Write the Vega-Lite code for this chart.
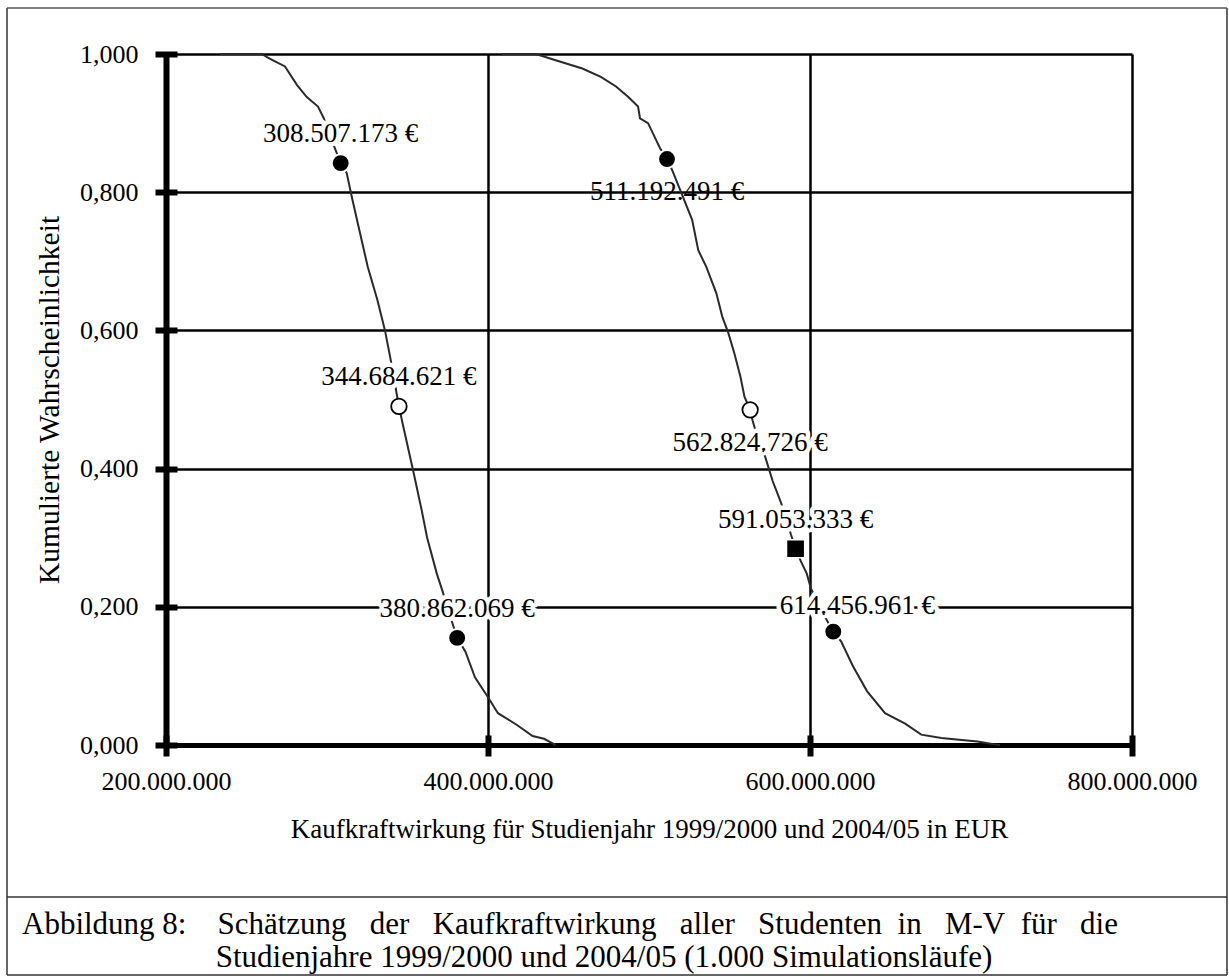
{
  "$schema": "https://vega.github.io/schema/vega-lite/v6.json",
  "width": 966,
  "height": 691,
  "autosize": {"type": "none"},
  "padding": {"left": 166, "top": 54, "right": 97, "bottom": 233},
  "background": "white",
  "config": {
    "locale": {"number": {"decimal": ",", "thousands": ".", "grouping": [3], "currency": ["", " €"]}},
    "font": "Liberation Serif",
    "view": {"stroke": null}
  },
  "title": {
    "text": [
      "Abbildung 8:\u00a0\u00a0\u00a0 Schätzung\u00a0\u00a0 der\u00a0\u00a0 Kaufkraftwirkung\u00a0\u00a0 aller\u00a0\u00a0 Studenten\u00a0 in\u00a0\u00a0 M-V\u00a0 für\u00a0\u00a0 die",
      "\u200b\u00a0\u00a0\u00a0\u00a0\u00a0\u00a0\u00a0\u00a0\u00a0\u00a0\u00a0\u00a0\u00a0\u00a0\u00a0\u00a0\u00a0\u00a0\u00a0\u00a0\u00a0\u00a0\u00a0\u00a0\u00a0Studienjahre 1999/2000 und 2004/05 (1.000 Simulationsläufe)"
    ],
    "orient": "bottom",
    "anchor": "start",
    "frame": "group",
    "font": "Liberation Serif",
    "fontSize": 31,
    "fontWeight": "normal",
    "color": "black",
    "lineHeight": 33,
    "offset": -66,
    "dx": -144
  },
  "datasets": {
    "kurven": [
      {"jahr": "1999/2000", "wert": 233500000, "p": 1.000},
      {"jahr": "1999/2000", "wert": 259600000, "p": 1.000},
      {"jahr": "1999/2000", "wert": 263000000, "p": 0.995},
      {"jahr": "1999/2000", "wert": 267100000, "p": 0.990},
      {"jahr": "1999/2000", "wert": 273900000, "p": 0.982},
      {"jahr": "1999/2000", "wert": 281400000, "p": 0.955},
      {"jahr": "1999/2000", "wert": 287300000, "p": 0.938},
      {"jahr": "1999/2000", "wert": 294400000, "p": 0.924},
      {"jahr": "1999/2000", "wert": 298000000, "p": 0.907},
      {"jahr": "1999/2000", "wert": 302500000, "p": 0.878},
      {"jahr": "1999/2000", "wert": 308507173, "p": 0.842},
      {"jahr": "1999/2000", "wert": 312200000, "p": 0.828},
      {"jahr": "1999/2000", "wert": 315800000, "p": 0.789},
      {"jahr": "1999/2000", "wert": 320500000, "p": 0.741},
      {"jahr": "1999/2000", "wert": 325300000, "p": 0.692},
      {"jahr": "1999/2000", "wert": 331300000, "p": 0.644},
      {"jahr": "1999/2000", "wert": 336000000, "p": 0.600},
      {"jahr": "1999/2000", "wert": 339600000, "p": 0.557},
      {"jahr": "1999/2000", "wert": 342000000, "p": 0.525},
      {"jahr": "1999/2000", "wert": 344684621, "p": 0.490},
      {"jahr": "1999/2000", "wert": 347000000, "p": 0.465},
      {"jahr": "1999/2000", "wert": 353900000, "p": 0.393},
      {"jahr": "1999/2000", "wert": 358700000, "p": 0.341},
      {"jahr": "1999/2000", "wert": 362200000, "p": 0.300},
      {"jahr": "1999/2000", "wert": 368200000, "p": 0.248},
      {"jahr": "1999/2000", "wert": 371700000, "p": 0.223},
      {"jahr": "1999/2000", "wert": 376000000, "p": 0.190},
      {"jahr": "1999/2000", "wert": 380862069, "p": 0.155},
      {"jahr": "1999/2000", "wert": 386000000, "p": 0.135},
      {"jahr": "1999/2000", "wert": 391900000, "p": 0.098},
      {"jahr": "1999/2000", "wert": 400300000, "p": 0.068},
      {"jahr": "1999/2000", "wert": 406200000, "p": 0.046},
      {"jahr": "1999/2000", "wert": 418000000, "p": 0.029},
      {"jahr": "1999/2000", "wert": 427700000, "p": 0.013},
      {"jahr": "1999/2000", "wert": 434800000, "p": 0.009},
      {"jahr": "1999/2000", "wert": 439600000, "p": 0.003},
      {"jahr": "1999/2000", "wert": 442000000, "p": 0.000},
      {"jahr": "2004/05", "wert": 408700000, "p": 1.000},
      {"jahr": "2004/05", "wert": 429800000, "p": 1.000},
      {"jahr": "2004/05", "wert": 442000000, "p": 0.991},
      {"jahr": "2004/05", "wert": 458600000, "p": 0.979},
      {"jahr": "2004/05", "wert": 470100000, "p": 0.967},
      {"jahr": "2004/05", "wert": 479500000, "p": 0.953},
      {"jahr": "2004/05", "wert": 487000000, "p": 0.938},
      {"jahr": "2004/05", "wert": 493200000, "p": 0.924},
      {"jahr": "2004/05", "wert": 494400000, "p": 0.907},
      {"jahr": "2004/05", "wert": 499400000, "p": 0.900},
      {"jahr": "2004/05", "wert": 504300000, "p": 0.876},
      {"jahr": "2004/05", "wert": 506800000, "p": 0.864},
      {"jahr": "2004/05", "wert": 511192491, "p": 0.848},
      {"jahr": "2004/05", "wert": 514400000, "p": 0.832},
      {"jahr": "2004/05", "wert": 519400000, "p": 0.803},
      {"jahr": "2004/05", "wert": 526800000, "p": 0.760},
      {"jahr": "2004/05", "wert": 530600000, "p": 0.716},
      {"jahr": "2004/05", "wert": 535600000, "p": 0.692},
      {"jahr": "2004/05", "wert": 541800000, "p": 0.654},
      {"jahr": "2004/05", "wert": 545500000, "p": 0.620},
      {"jahr": "2004/05", "wert": 549300000, "p": 0.596},
      {"jahr": "2004/05", "wert": 553000000, "p": 0.567},
      {"jahr": "2004/05", "wert": 556800000, "p": 0.533},
      {"jahr": "2004/05", "wert": 559300000, "p": 0.504},
      {"jahr": "2004/05", "wert": 562824726, "p": 0.485},
      {"jahr": "2004/05", "wert": 564300000, "p": 0.470},
      {"jahr": "2004/05", "wert": 568000000, "p": 0.440},
      {"jahr": "2004/05", "wert": 571900000, "p": 0.419},
      {"jahr": "2004/05", "wert": 576800000, "p": 0.382},
      {"jahr": "2004/05", "wert": 581800000, "p": 0.352},
      {"jahr": "2004/05", "wert": 585000000, "p": 0.330},
      {"jahr": "2004/05", "wert": 588100000, "p": 0.305},
      {"jahr": "2004/05", "wert": 591053333, "p": 0.284},
      {"jahr": "2004/05", "wert": 594300000, "p": 0.266},
      {"jahr": "2004/05", "wert": 598000000, "p": 0.248},
      {"jahr": "2004/05", "wert": 600500000, "p": 0.227},
      {"jahr": "2004/05", "wert": 607000000, "p": 0.195},
      {"jahr": "2004/05", "wert": 614456961, "p": 0.164},
      {"jahr": "2004/05", "wert": 619300000, "p": 0.150},
      {"jahr": "2004/05", "wert": 626700000, "p": 0.114},
      {"jahr": "2004/05", "wert": 635400000, "p": 0.078},
      {"jahr": "2004/05", "wert": 646600000, "p": 0.046},
      {"jahr": "2004/05", "wert": 659100000, "p": 0.031},
      {"jahr": "2004/05", "wert": 669100000, "p": 0.015},
      {"jahr": "2004/05", "wert": 681600000, "p": 0.010},
      {"jahr": "2004/05", "wert": 704000000, "p": 0.005},
      {"jahr": "2004/05", "wert": 714000000, "p": 0.001},
      {"jahr": "2004/05", "wert": 718000000, "p": 0.000}
    ],
    "marken": [
      {"jahr": "1999/2000", "wert": 308507173, "p": 0.842, "art": "voll"},
      {"jahr": "1999/2000", "wert": 344684621, "p": 0.490, "art": "offen"},
      {"jahr": "1999/2000", "wert": 380862069, "p": 0.155, "art": "voll"},
      {"jahr": "2004/05", "wert": 511192491, "p": 0.848, "art": "voll"},
      {"jahr": "2004/05", "wert": 562824726, "p": 0.485, "art": "offen"},
      {"jahr": "2004/05", "wert": 591053333, "p": 0.284, "art": "quadrat"},
      {"jahr": "2004/05", "wert": 614456961, "p": 0.164, "art": "voll"}
    ],
    "rahmen": [{}]
  },
  "layer": [
    {
      "data": {"name": "kurven"},
      "mark": {"type": "line", "color": "#2a2a2a", "strokeWidth": 2, "interpolate": "linear"},
      "encoding": {
        "x": {
          "field": "wert", "type": "quantitative",
          "scale": {"domain": [200000000, 800000000], "nice": false, "zero": false},
          "axis": {
            "orient": "bottom",
            "values": [200000000, 400000000, 600000000, 800000000],
            "format": ",.0f",
            "domain": false,
            "offset": -10,
            "tickSize": 21,
            "tickWidth": 6,
            "tickColor": "black",
            "grid": true,
            "gridColor": "black",
            "gridOpacity": 1,
            "gridWidth": {"condition": {"test": "datum.value === 200000000", "value": 6}, "value": 2.5},
            "labelFont": "Liberation Serif",
            "labelFontSize": 26,
            "labelColor": "black",
            "labelPadding": 12,
            "labelFlush": false,
            "labelOverlap": false,
            "title": "Kaufkraftwirkung für Studienjahr 1999/2000 und 2004/05 in EUR",
            "titleFont": "Liberation Serif",
            "titleFontSize": 27,
            "titleFontWeight": "normal",
            "titleColor": "black",
            "titlePadding": 22
          }
        },
        "y": {
          "field": "p", "type": "quantitative",
          "scale": {"domain": [0, 1], "nice": false},
          "axis": {
            "orient": "left",
            "values": [0, 0.2, 0.4, 0.6, 0.8, 1],
            "format": ".3f",
            "domain": false,
            "offset": -11,
            "tickSize": 22,
            "tickWidth": 6,
            "tickColor": "black",
            "grid": true,
            "gridColor": "black",
            "gridOpacity": 1,
            "gridWidth": {"condition": {"test": "datum.value === 0", "value": 5}, "value": 2.5},
            "labelFont": "Liberation Serif",
            "labelFontSize": 26,
            "labelColor": "black",
            "labelPadding": 17,
            "labelFlush": false,
            "labelOverlap": false,
            "title": "Kumulierte Wahrscheinlichkeit",
            "titleFont": "Liberation Serif",
            "titleFontSize": 29.5,
            "titleFontWeight": "normal",
            "titleColor": "black",
            "titlePadding": 15
          }
        },
        "detail": {"field": "jahr", "type": "nominal"}
      }
    },
    {
      "data": {"name": "marken"},
      "transform": [{"filter": {"field": "wert", "oneOf": [308507173, 344684621, 380862069, 591053333]}}],
      "mark": {"type": "text", "align": "center", "baseline": "middle", "dy": -29, "fontSize": 27, "font": "Liberation Serif", "stroke": "white", "strokeWidth": 9, "strokeJoin": "round", "fill": "white"},
      "encoding": {
        "x": {"field": "wert", "type": "quantitative", "scale": {"domain": [200000000, 800000000], "nice": false, "zero": false}},
        "y": {"field": "p", "type": "quantitative", "scale": {"domain": [0, 1], "nice": false}},
        "text": {"field": "wert", "type": "quantitative", "format": "$,.0f"}
      }
    },
    {
      "data": {"name": "marken"},
      "transform": [{"filter": {"field": "wert", "oneOf": [562824726]}}],
      "mark": {"type": "text", "align": "center", "baseline": "middle", "dy": 33, "fontSize": 27, "font": "Liberation Serif", "stroke": "white", "strokeWidth": 9, "strokeJoin": "round", "fill": "white"},
      "encoding": {
        "x": {"field": "wert", "type": "quantitative", "scale": {"domain": [200000000, 800000000], "nice": false, "zero": false}},
        "y": {"field": "p", "type": "quantitative", "scale": {"domain": [0, 1], "nice": false}},
        "text": {"field": "wert", "type": "quantitative", "format": "$,.0f"}
      }
    },
    {
      "data": {"name": "marken"},
      "transform": [{"filter": {"field": "wert", "oneOf": [614456961]}}],
      "mark": {"type": "text", "align": "center", "baseline": "middle", "dx": 24, "dy": -26, "fontSize": 27, "font": "Liberation Serif", "stroke": "white", "strokeWidth": 9, "strokeJoin": "round", "fill": "white"},
      "encoding": {
        "x": {"field": "wert", "type": "quantitative", "scale": {"domain": [200000000, 800000000], "nice": false, "zero": false}},
        "y": {"field": "p", "type": "quantitative", "scale": {"domain": [0, 1], "nice": false}},
        "text": {"field": "wert", "type": "quantitative", "format": "$,.0f"}
      }
    },
    {
      "data": {"name": "marken"},
      "transform": [{"filter": {"field": "art", "equal": "voll"}}],
      "mark": {"type": "point", "shape": "circle", "filled": true, "fill": "black", "stroke": "white", "strokeWidth": 2, "size": 320, "opacity": 1},
      "encoding": {
        "x": {"field": "wert", "type": "quantitative", "scale": {"domain": [200000000, 800000000], "nice": false, "zero": false}},
        "y": {"field": "p", "type": "quantitative", "scale": {"domain": [0, 1], "nice": false}}
      }
    },
    {
      "data": {"name": "marken"},
      "transform": [{"filter": {"field": "art", "equal": "offen"}}],
      "mark": {"type": "point", "shape": "circle", "filled": true, "fill": "white", "stroke": "black", "strokeWidth": 1.8, "size": 240, "opacity": 1},
      "encoding": {
        "x": {"field": "wert", "type": "quantitative", "scale": {"domain": [200000000, 800000000], "nice": false, "zero": false}},
        "y": {"field": "p", "type": "quantitative", "scale": {"domain": [0, 1], "nice": false}}
      }
    },
    {
      "data": {"name": "marken"},
      "transform": [{"filter": {"field": "art", "equal": "quadrat"}}],
      "mark": {"type": "point", "shape": "square", "filled": true, "fill": "black", "stroke": "white", "strokeWidth": 1.5, "size": 330, "opacity": 1},
      "encoding": {
        "x": {"field": "wert", "type": "quantitative", "scale": {"domain": [200000000, 800000000], "nice": false, "zero": false}},
        "y": {"field": "p", "type": "quantitative", "scale": {"domain": [0, 1], "nice": false}}
      }
    },
    {
      "data": {"name": "marken"},
      "transform": [{"filter": {"field": "wert", "oneOf": [308507173, 344684621, 380862069, 591053333]}}],
      "mark": {"type": "text", "align": "center", "baseline": "middle", "dy": -29, "fontSize": 27, "font": "Liberation Serif", "fill": "black"},
      "encoding": {
        "x": {"field": "wert", "type": "quantitative", "scale": {"domain": [200000000, 800000000], "nice": false, "zero": false}},
        "y": {"field": "p", "type": "quantitative", "scale": {"domain": [0, 1], "nice": false}},
        "text": {"field": "wert", "type": "quantitative", "format": "$,.0f"}
      }
    },
    {
      "data": {"name": "marken"},
      "transform": [{"filter": {"field": "wert", "oneOf": [511192491, 562824726]}}],
      "mark": {"type": "text", "align": "center", "baseline": "middle", "dy": 33, "fontSize": 27, "font": "Liberation Serif", "fill": "black"},
      "encoding": {
        "x": {"field": "wert", "type": "quantitative", "scale": {"domain": [200000000, 800000000], "nice": false, "zero": false}},
        "y": {"field": "p", "type": "quantitative", "scale": {"domain": [0, 1], "nice": false}},
        "text": {"field": "wert", "type": "quantitative", "format": "$,.0f"}
      }
    },
    {
      "data": {"name": "marken"},
      "transform": [{"filter": {"field": "wert", "oneOf": [614456961]}}],
      "mark": {"type": "text", "align": "center", "baseline": "middle", "dx": 24, "dy": -26, "fontSize": 27, "font": "Liberation Serif", "fill": "black"},
      "encoding": {
        "x": {"field": "wert", "type": "quantitative", "scale": {"domain": [200000000, 800000000], "nice": false, "zero": false}},
        "y": {"field": "p", "type": "quantitative", "scale": {"domain": [0, 1], "nice": false}},
        "text": {"field": "wert", "type": "quantitative", "format": "$,.0f"}
      }
    },
    {
      "data": {"name": "rahmen"},
      "mark": {"type": "rule", "color": "#333333", "strokeWidth": 1.5, "clip": false},
      "encoding": {
        "x": {"datum": 101240000, "type": "quantitative", "scale": {"domain": [200000000, 800000000], "nice": false, "zero": false}},
        "y": {"datum": -0.3329, "type": "quantitative", "scale": {"domain": [0, 1], "nice": false}},
        "y2": {"datum": 1.0666}
      }
    },
    {
      "data": {"name": "rahmen"},
      "mark": {"type": "rule", "color": "#333333", "strokeWidth": 1.5, "clip": false},
      "encoding": {
        "x": {"datum": 859000000, "type": "quantitative", "scale": {"domain": [200000000, 800000000], "nice": false, "zero": false}},
        "y": {"datum": -0.3329, "type": "quantitative", "scale": {"domain": [0, 1], "nice": false}},
        "y2": {"datum": 1.0666}
      }
    },
    {
      "data": {"name": "rahmen"},
      "mark": {"type": "rule", "color": "#555555", "strokeWidth": 1.5, "clip": false},
      "encoding": {
        "x": {"datum": 101240000, "type": "quantitative", "scale": {"domain": [200000000, 800000000], "nice": false, "zero": false}},
        "x2": {"datum": 859000000},
        "y": {"datum": 1.0666, "type": "quantitative", "scale": {"domain": [0, 1], "nice": false}}
      }
    },
    {
      "data": {"name": "rahmen"},
      "mark": {"type": "rule", "color": "#333333", "strokeWidth": 1.5, "clip": false},
      "encoding": {
        "x": {"datum": 101240000, "type": "quantitative", "scale": {"domain": [200000000, 800000000], "nice": false, "zero": false}},
        "x2": {"datum": 859000000},
        "y": {"datum": -0.22, "type": "quantitative", "scale": {"domain": [0, 1], "nice": false}}
      }
    },
    {
      "data": {"name": "rahmen"},
      "mark": {"type": "rule", "color": "#333333", "strokeWidth": 1.5, "clip": false},
      "encoding": {
        "x": {"datum": 101240000, "type": "quantitative", "scale": {"domain": [200000000, 800000000], "nice": false, "zero": false}},
        "x2": {"datum": 859000000},
        "y": {"datum": -0.3329, "type": "quantitative", "scale": {"domain": [0, 1], "nice": false}}
      }
    }
  ]
}
